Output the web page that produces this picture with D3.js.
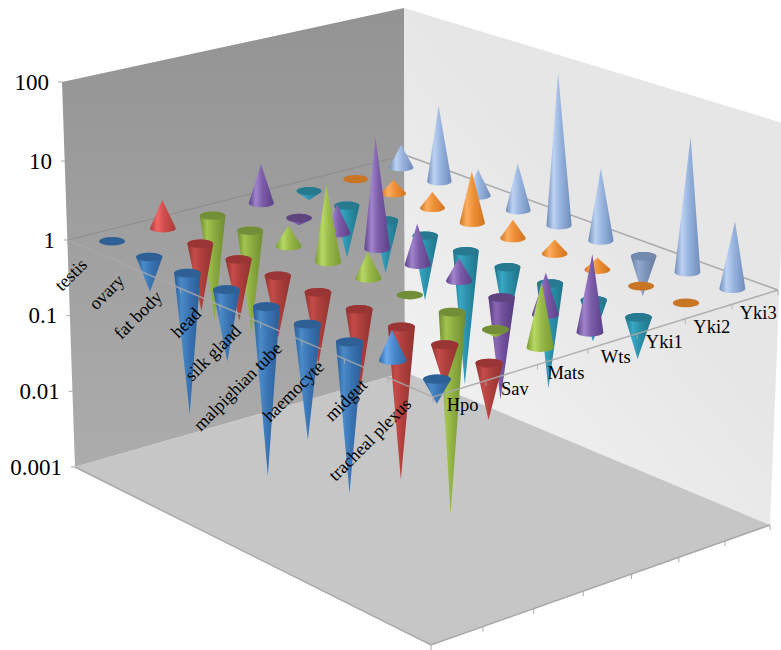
<!DOCTYPE html>
<html>
<head>
<meta charset="utf-8">
<script src="https://cdn.jsdelivr.net/npm/d3@7"></script>
<style>
  html, body { margin: 0; padding: 0; background: #fff; }
  svg { display: block; }
  text { font-family: "Liberation Serif", "Times New Roman", serif; fill: #000; }
</style>
</head>
<body>
<div id="main"></div>
<script>
var tissues = ["testis", "ovary", "fat body", "head", "silk gland", "malpighian tube", "haemocyte", "midgut", "tracheal plexus"];
var genes = ["Hpo", "Sav", "Mats", "Wts", "Yki1", "Yki2", "Yki3"];
var yTicks = [100, 10, 1, 0.1, 0.01, 0.001];

// one value per tissue
var hpo  = [1, 0.35, 0.015, 0.12, 0.007, 0.035, 0.013, 2.3, 0.5];
var sav  = [2.3, 0.13, 0.16, 0.16, 0.12, 0.08, 0.012, 0.3, 0.2];
var mats = [0.04, 0.045, 1.8, 9, 2.1, 1, 0.0028, 0.8, 6];
var wts  = [3.2, 0.8, 2.3, 25, 3.2, 1.9, 0.05, 3.2, 8.5];
var yki1 = [0.75, 0.2, 0.2, 0.14, 0.018, 0.13, 0.045, 0.3, 0.3];
var yki2 = [1, 1.5, 1.6, 4.5, 1.7, 1.5, 1.4, 1, 1];
var yki3 = [2, 10, 2.2, 4, 85, 8, 0.3, 45, 6.5];
var seriesValues = [hpo, sav, mats, wts, yki1, yki2, yki3];

// [edge dark, highlight, mid, cap]
var downColors = [
  ["#2a5c94", "#4a8ac8", "#3a74b4", "#2f6096"],
  ["#8f3230", "#c44c48", "#ae3f3c", "#9a3634"],
  ["#6f8c30", "#a2c450", "#8cac40", "#728e38"],
  ["#55397c", "#8a68b4", "#70509c", "#5e4480"],
  ["#1f7288", "#38a8c4", "#2c90aa", "#27798e"],
  ["#b8681c", "#e88c38", "#d47c2c", "#c87428"],
  ["#64799e", "#93aad0", "#7f96bc", "#7389ad"]
];
var upColors = [
  ["#2f68a8", "#6aa8ec", "#4a88cc", "#3a70b0"],
  ["#a83c3c", "#f06664", "#d04c4a", "#b04040"],
  ["#7a9a34", "#b8d864", "#98b84a", "#80a038"],
  ["#5c4088", "#a084cc", "#7c5ca8", "#64488c"],
  ["#1f7288", "#38a8c4", "#2c90aa", "#27798e"],
  ["#d07420", "#fcae60", "#ee9038", "#d87c28"],
  ["#6f8cba", "#bcd2f2", "#98b4de", "#7c98c4"]
];

var ctx = {
  w: 781,
  h: 650,
  AXIS: "#a8a8a8",
  // box corners on screen: left, front, right, back
  top:   [[62, 82],  [431, 227], [786, 124], [404, 8]],
  mid:   [[68, 240], [433, 397], [778, 290], [405, 155]],
  floor: [[75, 467], [431, 645], [770, 525], [405, 372]]
};

// unit square to quad homography
var makeQuad = function(q){
  var x0 = q[0][0], y0 = q[0][1], x1 = q[1][0], y1 = q[1][1],
      x2 = q[2][0], y2 = q[2][1], x3 = q[3][0], y3 = q[3][1];
  var dx1 = x1 - x2, dx2 = x3 - x2, sx = x0 - x1 + x2 - x3,
      dy1 = y1 - y2, dy2 = y3 - y2, sy = y0 - y1 + y2 - y3;
  var den = dx1 * dy2 - dx2 * dy1;
  var g = (sx * dy2 - dx2 * sy) / den,
      h = (dx1 * sy - sx * dy1) / den;
  var a = x1 - x0 + g * x1, b = x3 - x0 + h * x3,
      d = y1 - y0 + g * y1, e = y3 - y0 + h * y3;
  return function(u, v){
    var w = g * u + h * v + 1;
    return [(a * u + b * v + x0) / w, (d * u + e * v + y0) / w];
  };
};

var topPlane = makeQuad(ctx.top),
    midPlane = makeQuad(ctx.mid),
    floorPlane = makeQuad(ctx.floor);

var uScale = d3.scalePoint().domain(tissues).range([0, 1]).padding(0.5);
var vScale = d3.scalePoint().domain(genes).range([0, 1]).padding(0.5);
var zScale = d3.scaleLog().domain([0.001, 100]).range([-3, 2]);

// u along the tissues, v along the genes, value on the log axis
var project = function(u, v, value){
  var t = zScale(value), m = midPlane(u, v);
  var o = t >= 0 ? topPlane(u, v) : floorPlane(u, v);
  var k = t >= 0 ? t / 2 : -t / 3;
  return [m[0] + (o[0] - m[0]) * k, m[1] + (o[1] - m[1]) * k];
};

var polyPath = function(pts){
  return "M" + pts.map(p => p[0] + "," + p[1]).join("L") + "Z";
};

var conePath = function(b, tip, rx, ry){
  var h = Math.abs(tip[1] - b[1]);
  if (h <= ry * 1.05){ return null; }
  var s = tip[1] < b[1] ? -1 : 1;
  var off = ry * ry / h;
  var dx = rx * Math.sqrt(1 - (ry * ry) / (h * h));
  var yT = b[1] + s * off;
  return "M" + (b[0] - dx) + "," + yT + "L" + tip[0] + "," + tip[1] +
         "L" + (b[0] + dx) + "," + yT +
         "A" + rx + " " + ry + " 0 1 " + (s < 0 ? 1 : 0) + " " + (b[0] - dx) + "," + yT + "Z";
};

var createWalls = function(svgEl){
  var defs = svgEl.append("defs");
  var lg = defs.append("linearGradient").attr("id", "leftWall")
    .attr("x1", 0).attr("y1", 0).attr("x2", 0).attr("y2", 1);
  lg.append("stop").attr("offset", 0).attr("stop-color", "#939393");
  lg.append("stop").attr("offset", 1).attr("stop-color", "#acacac");
  var rg = defs.append("linearGradient").attr("id", "rightWall")
    .attr("x1", 0).attr("y1", 1).attr("x2", 0.5).attr("y2", 0.4);
  rg.append("stop").attr("offset", 0).attr("stop-color", "#f5f5f5");
  rg.append("stop").attr("offset", 1).attr("stop-color", "#e6e6e6");
  var soft = defs.append("filter").attr("id", "soft");
  soft.append("feGaussianBlur").attr("stdDeviation", 0.4);

  var g = svgEl.append("g");
  g.append("path").attr("fill", "url(#leftWall)")
    .attr("d", polyPath([ctx.top[0], ctx.top[3], ctx.floor[3], ctx.floor[0]]));
  g.append("path").attr("fill", "url(#rightWall)")
    .attr("d", polyPath([ctx.top[3], ctx.top[2], ctx.floor[2], ctx.floor[3]]));
  g.append("path").attr("fill", "#c6c6c6")
    .attr("d", polyPath(ctx.floor));

  // floor front edges
  g.append("path").attr("fill", "none").attr("stroke", ctx.AXIS).attr("stroke-width", 1.5)
    .attr("d", "M" + ctx.floor[0] + "L" + ctx.floor[1] + "L" + ctx.floor[2]);
  d3.range(genes.length + 1).forEach(function(i){
    var p = floorPlane(1, i / genes.length);
    g.append("line").attr("stroke", ctx.AXIS)
      .attr("x1", p[0]).attr("y1", p[1]).attr("x2", p[0]).attr("y2", p[1] + 5);
  });

  // back edges of the value=1 plane, these stay under the cones
  g.append("path").attr("fill", "none").attr("stroke", "#8b8b8b")
    .attr("d", "M" + ctx.mid[0] + "L" + ctx.mid[3]);
  g.append("path").attr("fill", "none").attr("stroke", ctx.AXIS).attr("stroke-width", 1.5)
    .attr("d", "M" + ctx.mid[3] + "L" + ctx.mid[2]);
};

var createGradients = function(svgEl){
  var defs = svgEl.append("defs");
  [["down", downColors], ["up", upColors]].forEach(function(set){
    set[1].forEach(function(c, i){
      var lg = defs.append("linearGradient").attr("id", set[0] + i)
        .attr("x1", 0).attr("y1", 0).attr("x2", 1).attr("y2", 0);
      [[0, c[0]], [0.28, c[1]], [0.55, c[2]], [1, c[0]]].forEach(function(s){
        lg.append("stop").attr("offset", s[0]).attr("stop-color", s[1]);
      });
    });
  });
};

var createCones = function(svgEl){
  var radius = d3.scaleLinear().domain([0, 1]).range([12, 14]);
  var all = svgEl.append("g").attr("filter", "url(#soft)");
  // back series first, near categories last
  for (var i = genes.length - 1; i >= 0; i--){
    var g = all.append("g").attr("class", "series-" + genes[i]);
    tissues.forEach(function(tissue, j){
      var value = seriesValues[i][j];
      var u = uScale(tissue), v = vScale(genes[i]);
      var b = project(u, v, 1), tip = project(u, v, value);
      var rx = radius((u + 1 - v) / 2), ry = rx * 0.33;
      var up = value >= 1;
      var d = conePath(b, tip, rx, ry);
      if (d){
        g.append("path").attr("d", d)
          .attr("fill", "url(#" + (up ? "up" : "down") + i + ")");
      }
      if (!up || !d){
        g.append("ellipse").attr("cx", b[0]).attr("cy", b[1])
          .attr("rx", rx).attr("ry", ry)
          .attr("fill", downColors[i][3]);
      }
    });
  }
};

var createAxes = function(svgEl){
  var g = svgEl.append("g");
  // these two run over the cones
  var over = g.append("g").attr("opacity", 0.85);
  over.append("path").attr("fill", "none").attr("stroke", ctx.AXIS).attr("stroke-width", 1.5)
    .attr("d", "M" + ctx.mid[0] + "L" + ctx.mid[1] + "L" + ctx.mid[2]);
  d3.range(tissues.length + 1).forEach(function(i){
    var p = midPlane(i / tissues.length, 0);
    over.append("line").attr("stroke", ctx.AXIS)
      .attr("x1", p[0]).attr("y1", p[1]).attr("x2", p[0]).attr("y2", p[1] + 5);
  });
  d3.range(genes.length + 1).forEach(function(i){
    var p = midPlane(1, i / genes.length);
    over.append("line").attr("stroke", ctx.AXIS)
      .attr("x1", p[0]).attr("y1", p[1]).attr("x2", p[0]).attr("y2", p[1] + 5);
  });

  yTicks.forEach(function(t){
    var p = project(0, 0, t);
    g.append("line").attr("stroke", ctx.AXIS)
      .attr("x1", p[0] - 4).attr("y1", p[1]).attr("x2", p[0]).attr("y2", p[1]);
    g.append("text").attr("x", p[0] - 13).attr("y", p[1])
      .attr("dy", "0.33em").attr("text-anchor", "end")
      .attr("font-size", 23).text(t);
  });

  tissues.forEach(function(t){
    var p = midPlane(uScale(t), 0);
    g.append("text")
      .attr("transform", "translate(" + (p[0] + 2) + "," + (p[1] + 18) + ") rotate(-45)")
      .attr("text-anchor", "end").attr("font-size", 18).text(t);
  });

  genes.forEach(function(t){
    var p = midPlane(1, vScale(t));
    g.append("text").attr("x", p[0] + 3).attr("y", p[1] + 22)
      .attr("text-anchor", "middle").attr("font-size", 18.5).text(t);
  });
};

var createViz = function(){
  var svgEl = d3.select("#main").append("svg")
    .attr("width", ctx.w).attr("height", ctx.h);
  createWalls(svgEl);
  createGradients(svgEl);
  createCones(svgEl);
  createAxes(svgEl);
};

createViz();
</script>
</body>
</html>
